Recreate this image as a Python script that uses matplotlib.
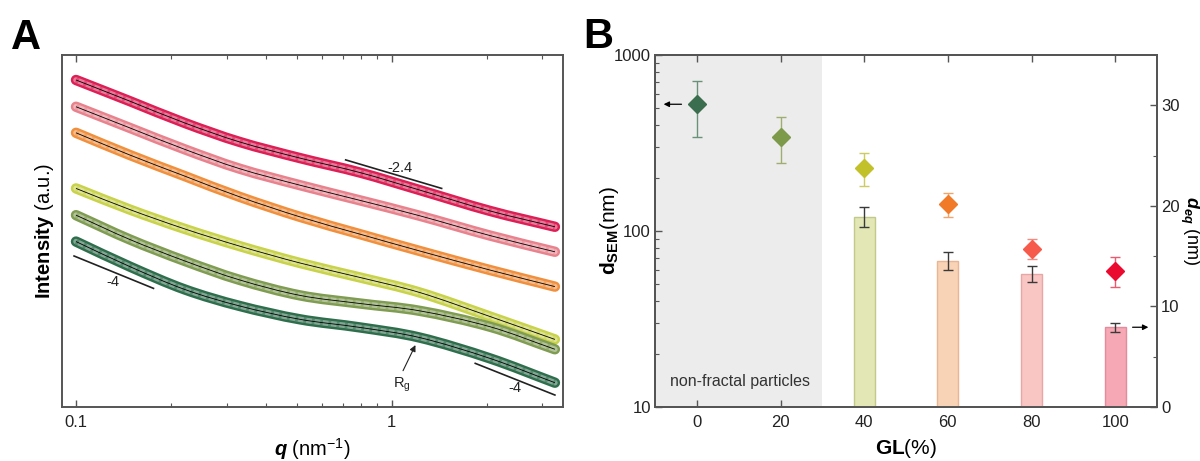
import numpy as np
import matplotlib
matplotlib.use("Agg")
import matplotlib.pyplot as plt
from matplotlib.colors import to_rgb
from matplotlib.path import Path
from matplotlib.patches import PathPatch

plt.rcParams['font.family'] = ['Liberation Sans', 'DejaVu Sans']
plt.rcParams['mathtext.fontset'] = 'custom'
plt.rcParams['mathtext.rm'] = 'Liberation Sans'
plt.rcParams['mathtext.it'] = 'Liberation Sans:italic'
plt.rcParams['mathtext.bf'] = 'Liberation Sans:bold'
plt.rcParams['mathtext.bfit'] = 'Liberation Sans:italic:bold'

# ---------------- Panel A data (SAXS curves, intensity in log a.u.) ----------------
q = [0.100, 0.148, 0.221, 0.330, 0.513, 0.794, 1.23, 2.05, 3.29]
I_gl100 = [9.29, 8.69, 8.07, 7.53, 7.07, 6.66, 6.16, 5.57, 5.12]
I_gl80 = [8.53, 7.93, 7.32, 6.77, 6.30, 5.87, 5.43, 4.87, 4.41]
I_gl60 = [7.79, 7.16, 6.56, 5.97, 5.40, 4.91, 4.43, 3.89, 3.42]
I_gl40 = [6.21, 5.61, 5.06, 4.57, 4.09, 3.68, 3.25, 2.57, 1.92]
I_gl20 = [5.45, 4.76, 4.15, 3.61, 3.17, 2.94, 2.73, 2.28, 1.64]
I_gl0 = [4.70, 3.99, 3.34, 2.87, 2.49, 2.26, 1.97, 1.38, 0.69]
curves = [I_gl100, I_gl80, I_gl60, I_gl40, I_gl20, I_gl0]
curve_colors = ['#dc1f55', '#e8838e', '#f0903e', '#c8d24a', '#7f9c52', '#2f6e4c']

# slope guide lines (q, I) and labels
slope_mid_q = [0.715, 1.44]
slope_mid_I = [7.02, 6.21]
slope_left_q = [0.0986, 0.176]
slope_left_I = [4.29, 3.37]
slope_right_q = [1.84, 3.29]
slope_right_I = [1.24, 0.34]

# ---------------- Panel B data ----------------
GL = [0, 20, 40, 60, 80, 100]
d_sem = [525, 343, 227, 142, 79, 59.5]
d_sem_lo = [341, 244, 180, 120.5, 69, 47.9]
d_sem_hi = [711, 446, 276, 163.6, 89.7, 71.4]
GL_bar = [40, 60, 80, 100]
d_eq = [18.9, 14.5, 13.2, 7.93]
d_eq_err = [1.0, 0.9, 0.8, 0.47]

diamond_colors = ['#3b6e4e', '#7d9a4a', '#c2c12a', '#f07a28', '#f65a4a', '#ea0a30']
diamond_err_colors = ['#6a9278', '#9fae70', '#cfcb63', '#f3a46a', '#f28a80', '#ec5a70']
bar_colors = ['#e3e7b5', '#f9d3b6', '#f9c6c4', '#f6a8b5']
bar_edges = ['#c3c98a', '#e9b592', '#e8a7a4', '#e38c9b']


def smooth_path(xs, ys):
    """Smooth Bezier path through the data points (built in log-q space)."""
    lx = np.log10(xs)
    ly = np.asarray(ys, float)
    P = np.column_stack([lx, ly])
    P_ext = np.vstack([2 * P[0] - P[1], P, 2 * P[-1] - P[-2]])
    verts = [P[0]]
    codes = [Path.MOVETO]
    for i in range(len(P) - 1):
        p0, p1, p2, p3 = P_ext[i], P_ext[i + 1], P_ext[i + 2], P_ext[i + 3]
        c1 = p1 + (p2 - p0) / 6.0
        c2 = p2 - (p3 - p1) / 6.0
        verts += [c1, c2, p2]
        codes += [Path.CURVE4] * 3
    verts = np.array(verts)
    verts[:, 0] = 10 ** verts[:, 0]
    return Path(verts, codes)


fig = plt.figure(figsize=(12, 4.61), dpi=100)
frame_col = '#555555'

# ================= Panel A =================
axA = fig.add_axes([62/1200, 1-407/461, 501/1200, 352/461])
for I, c in zip(curves, curve_colors):
    path = smooth_path(q, I)
    rgb = np.array(to_rgb(c))
    light = tuple(0.6*rgb + 0.4)
    p1 = PathPatch(path, fill=False, edgecolor=c, lw=7.5, capstyle='round', joinstyle='round', zorder=2)
    p2 = PathPatch(path, fill=False, edgecolor=light, lw=4.0, capstyle='round', joinstyle='round', zorder=3)
    p3 = PathPatch(path, fill=False, edgecolor=c, lw=4.0, linestyle=(0, (0.5, 1.0)), alpha=0.5, zorder=3.5)
    p4 = PathPatch(path, fill=False, edgecolor='black', lw=0.6, zorder=4)
    for p in (p1, p2, p3, p4):
        axA.add_patch(p)

axA.plot(slope_mid_q, slope_mid_I, color='#222222', lw=1.2)
axA.plot(slope_left_q, slope_left_I, color='#222222', lw=1.2)
axA.plot(slope_right_q, slope_right_I, color='#222222', lw=1.2)
axA.text(1.06, 6.80, '-2.4', fontsize=10.5, ha='center', va='center', color='#222222')
axA.text(0.131, 3.56, '-4', fontsize=10.5, ha='center', va='center', color='#222222')
axA.text(2.46, 0.53, '-4', fontsize=10.5, ha='center', va='center', color='#222222')
axA.annotate('', xy=(1.2, 1.83), xytext=(1.077, 0.96),
             arrowprops=dict(arrowstyle='-|>', color='#222222', lw=0.8, mutation_scale=9))
axA.text(1.077, 0.62, r'R$_\mathrm{g}$', fontsize=10.5, ha='center', va='center', color='#222222')

axA.set_xscale('log')
axA.set_xlim(0.0903, 3.49)
axA.set_ylim(0, 10)
axA.set_yticks([])
axA.set_xticks([0.1, 1])
axA.set_xticklabels(['0.1', '1'])
axA.xaxis.set_minor_formatter(matplotlib.ticker.NullFormatter())
axA.tick_params(axis='x', which='both', direction='in', top=True, bottom=True,
                colors=frame_col, labelcolor='#222222', labelsize=12)
axA.tick_params(axis='x', which='major', length=5, width=1.0, pad=6)
axA.tick_params(axis='x', which='minor', length=3, width=0.8)
for s in axA.spines.values():
    s.set_color(frame_col)
    s.set_linewidth(1.4)
axA.set_xlabel(r'$\mathbfit{q}$ (nm$^{-1}$)', fontsize=14.5, labelpad=4)
axA.set_ylabel(r'$\mathbf{Intensity}$ (a.u.)', fontsize=14.5, labelpad=4)

# ================= Panel B =================
axB = fig.add_axes([655/1200, 1-407/461, 502/1200, 352/461])
axB.axvspan(-10, 30, color='#ececec', lw=0, zorder=0)
axB.set_yscale('log')
axB.set_ylim(10, 1000)
axB.set_xlim(-10, 110)

ax2 = axB.twinx()
ax2.set_ylim(0, 35)
ax2.bar(GL_bar, d_eq, width=5, color=bar_colors, edgecolor=bar_edges, linewidth=1.0, zorder=2)
ax2.errorbar(GL_bar, d_eq, yerr=d_eq_err, fmt='none', ecolor='#3a3a3a', elinewidth=1.0,
             capsize=3.5, capthick=1.0, zorder=3)

# overlay axis (same log scale as left axis) so the diamonds sit above the bars
ax3 = fig.add_axes(axB.get_position(), sharex=axB, frameon=False)
ax3.set_yscale('log')
ax3.set_ylim(10, 1000)
ax3.set_xlim(-10, 110)
ax3.axis('off')
for x, y, lo, hi, c, ec in zip(GL, d_sem, d_sem_lo, d_sem_hi, diamond_colors, diamond_err_colors):
    ax3.errorbar([x], [y], yerr=[[y - lo], [hi - y]], fmt='none', ecolor=ec, elinewidth=1.0,
                 capsize=3.5, capthick=1.0, zorder=3)
    ax3.plot([x], [y], marker='D', ms=9.5, color=c, mec=c, zorder=4, ls='none')

ax3.annotate('', xy=(-8.6, d_sem[0]), xytext=(-3.0, d_sem[0]),
             arrowprops=dict(arrowstyle='-|>', color='black', lw=0.9, mutation_scale=8))
ax2.annotate('', xy=(108.6, d_eq[-1]), xytext=(103.5, d_eq[-1]),
             arrowprops=dict(arrowstyle='-|>', color='black', lw=0.9, mutation_scale=8))
axB.text(10.2, 13.9, 'non-fractal particles', fontsize=11.5, ha='center', va='center', color='#333333')

axB.set_xticks(GL)
axB.set_xticklabels([str(g) for g in GL])
axB.set_yticks([10, 100, 1000])
axB.set_yticklabels(['10', '100', '1000'])
axB.yaxis.set_minor_formatter(matplotlib.ticker.NullFormatter())
axB.tick_params(axis='x', which='both', direction='in', top=True, bottom=True,
                length=5, width=1.0, colors=frame_col, labelcolor='#222222', labelsize=12, pad=6)
axB.tick_params(axis='y', which='major', direction='in', length=5, width=1.0,
                colors=frame_col, labelcolor='#222222', labelsize=12, pad=3)
axB.tick_params(axis='y', which='minor', direction='in', length=3, width=0.8, colors=frame_col)
ax2.set_yticks([0, 10, 20, 30])
ax2.set_yticks([5, 15, 25], minor=True)
ax2.tick_params(axis='y', which='major', direction='in', length=5, width=1.0,
                colors=frame_col, labelcolor='#222222', labelsize=12, pad=3)
ax2.tick_params(axis='y', which='minor', direction='in', length=3, width=0.8, colors=frame_col)
for a in (axB, ax2):
    for s in a.spines.values():
        s.set_color(frame_col)
        s.set_linewidth(1.4)

axB.set_xlabel(r'$\mathbf{GL}$(%)', fontsize=15, labelpad=5)
axB.set_ylabel(r'$\mathbf{d_{SEM}}$(nm)', fontsize=15)
axB.yaxis.set_label_coords(-0.068, 0.5)
ax2.set_ylabel(r'$\mathbfit{d_{eq}}$ (nm)', fontsize=13, rotation=270, labelpad=15.5)

fig.text(0.009, 0.918, 'A', fontsize=30, fontweight='bold', va='center', ha='left')
fig.text(0.486, 0.920, 'B', fontsize=30, fontweight='bold', va='center', ha='left')

fig.savefig('out.png', dpi=100)
